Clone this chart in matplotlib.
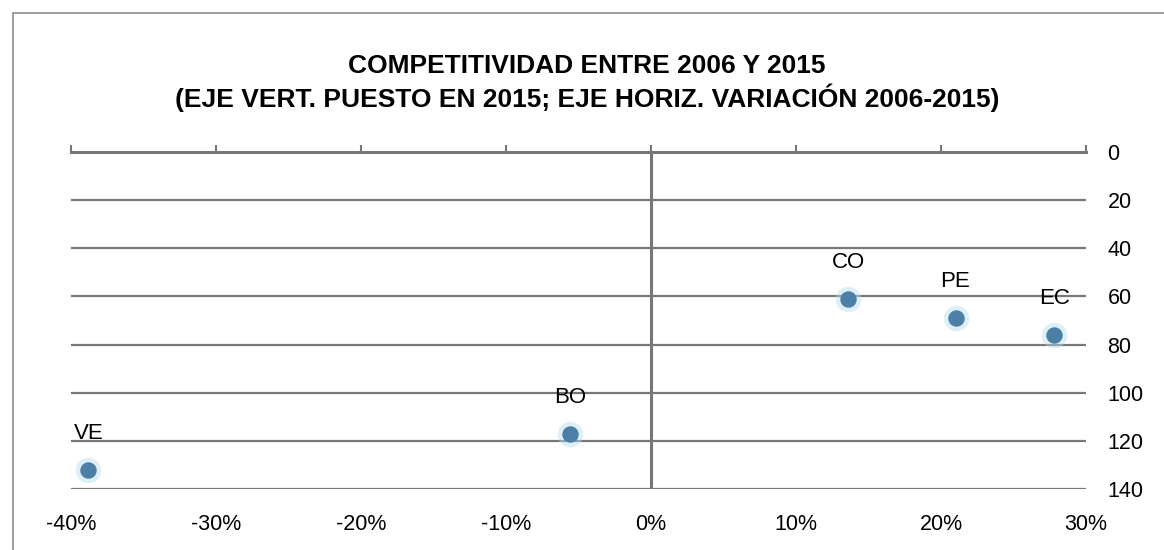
import numpy as np
import matplotlib.pyplot as plt
from matplotlib.patches import Rectangle
from matplotlib.ticker import FuncFormatter

plt.rcParams['font.family'] = ['Liberation Sans', 'DejaVu Sans']

# data
countries = ['VE', 'BO', 'CO', 'PE', 'EC']
variacion = [-38.8, -5.6, 13.6, 21.0, 27.8]   # % change 2006-2015
puesto = [132, 117, 61, 69, 76]               # rank in 2015

xticks = [-40, -30, -20, -10, 0, 10, 20, 30]
yticks = [0, 20, 40, 60, 80, 100, 120, 140]

line_col = '#777777'

fig = plt.figure(figsize=(11.64, 5.5), dpi=100)
ax = fig.add_axes([71 / 1164, 1 - 489 / 550, (1086 - 71) / 1164, (489 - 152) / 550])

# outer chart border
fig.patches.append(Rectangle((13 / 1164, -0.1), 1.2, 1 - 13 / 550 + 0.1,
                             transform=fig.transFigure, fill=False,
                             edgecolor='#8c8c8c', linewidth=1.2))

# points (soft blue dots)
ax.scatter(variacion, puesto, s=340, color='#b9dcef', alpha=0.45, zorder=3, linewidths=0)
ax.scatter(variacion, puesto, s=140, color='#4b7fa6', zorder=4, linewidths=0)
for c, x, y in zip(countries, variacion, puesto):
    ax.annotate(c, (x, y), xytext=(0, 26), textcoords='offset points',
                ha='center', va='center', fontsize=16)

ax.set_xlim(-40, 30)
ax.set_ylim(140, 0)
ax.set_xticks(xticks)
ax.set_yticks(yticks)
ax.xaxis.set_major_formatter(FuncFormatter(lambda v, p: '%d%%' % v))
ax.yaxis.set_major_formatter(FuncFormatter(lambda v, p: '%d' % v))

for s in ['left', 'right', 'bottom']:
    ax.spines[s].set_visible(False)
ax.spines['top'].set_color(line_col)
ax.spines['top'].set_linewidth(2.2)

ax.tick_params(axis='x', top=True, bottom=False, labeltop=False, labelbottom=True,
               direction='out', length=5, width=1.5, color=line_col, pad=13, labelsize=15.5)
ax.tick_params(axis='y', left=False, right=False, labelleft=False, labelright=True,
               pad=12, labelsize=15.5)
for lab in ax.get_yticklabels():
    lab.set_horizontalalignment('left')

ax.grid(axis='y', color=line_col, linewidth=1.6)
ax.set_axisbelow(True)
ax.axvline(0, color=line_col, linewidth=2.2, zorder=2)

fig.text(587 / 1164, 1 - 66 / 550, 'COMPETITIVIDAD ENTRE 2006 Y 2015',
         ha='center', va='center', fontsize=19, fontweight='bold')
fig.text(587 / 1164, 1 - 98 / 550, '(EJE VERT. PUESTO EN 2015; EJE HORIZ. VARIACIÓN 2006-2015)',
         ha='center', va='center', fontsize=19, fontweight='bold')

fig.savefig('out.png', dpi=100, facecolor='white')
